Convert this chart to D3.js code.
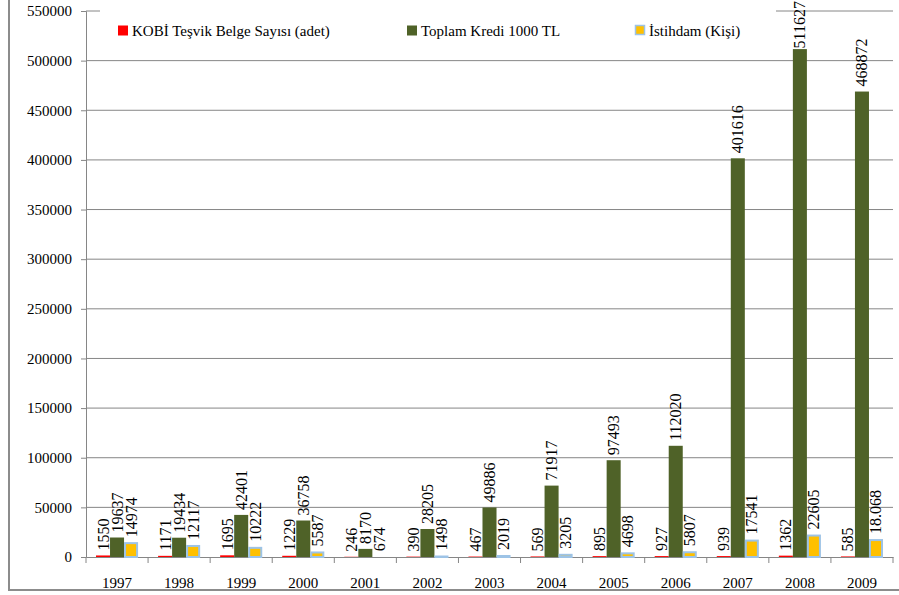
<!DOCTYPE html>
<html><head><meta charset="utf-8">
<script src="https://cdn.jsdelivr.net/npm/d3@7/dist/d3.min.js"></script>
</head><body style="margin:0;background:#fff"><svg id="c" width="899" height="595" style="display:block"></svg>
<script>
const years = ["1997","1998","1999","2000","2001","2002","2003","2004","2005","2006","2007","2008","2009"];
const kobi = [1550,1171,1695,1229,246,390,467,569,895,927,939,1362,585];
const kredi = [19637,19434,42401,36758,8170,28205,49886,71917,97493,112020,401616,511627,468872];
const istihdam = [14974,12117,10222,5587,674,1498,2019,3205,4698,5807,17541,22605,18068];
const istihdamLabels = ["14974","12117","10222","5587","674","1498","2019","3205","4698","5807","17541","22605","18.068"];
const seriesNames = ["KOBİ Teşvik Belge Sayısı (adet)","Toplam Kredi 1000 TL","İstihdam (Kişi)"];
const yTicks = d3.range(0,550001,50000);

const FONT = '"Liberation Serif"';
const series = [
  {name:seriesNames[0], values:kobi, labels:kobi.map(String), fill:"#FF0000", stroke:"none"},
  {name:seriesNames[1], values:kredi, labels:kredi.map(String), fill:"#4F6228", stroke:"none"},
  {name:seriesNames[2], values:istihdam, labels:istihdamLabels, fill:"#FFC000", stroke:"#9DC3E6"}
];

const svg = d3.select("#c").style("font-family",FONT);
const pLeft=86, pRight=893, pTop=11, pBottom=557;
const x = d3.scaleBand().domain(years).range([pLeft,pRight]).paddingInner(0).paddingOuter(0);
const y = d3.scaleLinear().domain([0,550000]).range([pBottom,pTop]);
const inner = d3.scaleBand().domain([0,1,2]).range([10, x.bandwidth()-10]).padding(0);

// outer frame
svg.append("rect").attr("x",9).attr("y",-5).attr("width",900).attr("height",595)
  .attr("fill","none").attr("stroke","#8c8c8c").attr("stroke-width",2);

// gridlines
svg.append("g").selectAll("line").data(yTicks.filter(d=>d>0)).join("line")
  .attr("x1",pLeft).attr("x2",pRight).attr("y1",d=>y(d)).attr("y2",d=>y(d))
  .attr("stroke","#868686").attr("stroke-width",1);

// y axis
const ya = svg.append("g").attr("transform",`translate(${pLeft},0)`)
  .call(d3.axisLeft(y).tickValues(yTicks).tickFormat(d3.format("d")).tickSize(5).tickPadding(9));
ya.attr("font-family",null).attr("font-size",null);
ya.select(".domain").attr("stroke","#868686");
ya.selectAll(".tick line").attr("stroke","#868686");
ya.selectAll(".tick text").style("font-size","15px").style("font-family",FONT).attr("fill","#000");

// x axis
const xa = svg.append("g").attr("transform",`translate(0,${pBottom})`)
  .call(d3.axisBottom(x).tickSize(0).tickPadding(20));
xa.attr("font-family",null).attr("font-size",null);
xa.select(".domain").attr("stroke","#868686");
xa.selectAll(".tick text").style("font-size","15px").style("font-family",FONT).attr("fill","#000");
// category boundary ticks
const bounds = years.map(d=>x(d)).concat([pRight]);
svg.append("g").selectAll("line").data(bounds).join("line")
  .attr("x1",d=>d).attr("x2",d=>d).attr("y1",pBottom).attr("y2",pBottom+6)
  .attr("stroke","#868686");

// bars
series.forEach((s,si)=>{
  const g = svg.append("g");
  const sw = s.stroke!=="none";
  g.selectAll("rect").data(years).join("rect")
    .attr("x",(d)=>x(d)+inner(si)+(sw?1:0))
    .attr("width",inner.bandwidth()-(sw?2:0))
    .attr("y",(d,i)=>y(s.values[i])+(sw?1:0))
    .attr("height",(d,i)=>Math.max(0,pBottom-y(s.values[i])-(sw?1:0)))
    .attr("fill",s.fill).attr("stroke",s.stroke).attr("stroke-width",2);
});

// labels
series.forEach((s,si)=>{
  const g = svg.append("g");
  years.forEach((d,i)=>{
    const cx = x(d)+inner(si)+inner.bandwidth()/2;
    const t = g.append("text").style("font-size","16px").style("font-family",FONT)
      .attr("dominant-baseline","central").attr("text-anchor","start").text(s.labels[i]);
    const len = t.node().getComputedTextLength();
    let sy = y(s.values[i]) - 5;
    if (sy - len < 1) sy = len + 1;
    t.attr("transform",`translate(${cx},${sy}) rotate(-90)`);
  });
});

// legend
const leg = svg.append("g");
leg.append("rect").attr("x",100).attr("y",4).attr("width",676).attr("height",46).attr("fill","#fff");
const legX = [118, 407, 635];
series.forEach((s,si)=>{
  const sw = s.stroke!=="none";
  leg.append("rect").attr("x",legX[si]+(sw?0.5:0)).attr("y",25.5)
    .attr("width",sw?9:10).attr("height",sw?9:10)
    .attr("fill",s.fill).attr("stroke",s.stroke).attr("stroke-width",sw?1.5:0);
  leg.append("text").attr("x",legX[si]+14).attr("y",35.5)
    .style("font-size","15px").style("font-family",FONT).text(s.name);
});
</script></body></html>
